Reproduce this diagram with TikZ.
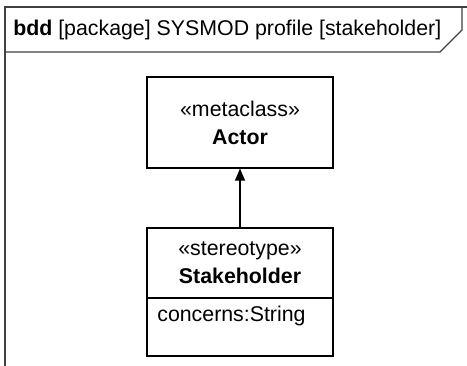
\documentclass[tikz,border=0pt]{standalone}
\usepackage{fontspec}
\setmainfont{Liberation Sans}
\usetikzlibrary{positioning,arrows.meta}
\begin{document}
\begin{tikzpicture}[x=0.75pt,y=-0.75pt,>={Triangle[length=9pt,width=7.5pt]},
    block/.style={draw,line width=0.9pt,minimum width=139.5pt,inner sep=0pt,
      align=center,font=\fontsize{16}{21}\selectfont}]
    \useasboundingbox (0,0) rectangle (467,365);
    % diagram frame and heading
    \draw[line width=0.9pt,black!75] (5,368) -- (5,7) -- (470,7);
    \draw[line width=0.9pt,black!75] (5,52) -- (440,52) -- (462,30) -- (462,7);
    \node[anchor=west,inner sep=0pt,font=\fontsize{16}{20}\selectfont] (title) at (13,30)
      {\textbf{bdd} [package] SYSMOD profile [stakeholder]};
    % blocks
    \node[block,minimum height=68.25pt] (actor) at (240,122.5) {«metaclass»\\\textbf{Actor}};
    \node[block,minimum height=52.5pt] (stkhead) at (240,263) {«stereotype»\\\textbf{Stakeholder}};
    \node[block,minimum height=43.5pt,below=-0.9pt of stkhead] (stkattr) {};
    \node[anchor=north west,inner sep=0pt,font=\fontsize{16}{21}\selectfont] (concerns)
      at ([xshift=8pt,yshift=-6pt]stkattr.north west) {concerns:String};
    % extension
    \draw[->,line width=0.9pt] (stkhead.north) -- (actor.south);
\end{tikzpicture}
\end{document}
